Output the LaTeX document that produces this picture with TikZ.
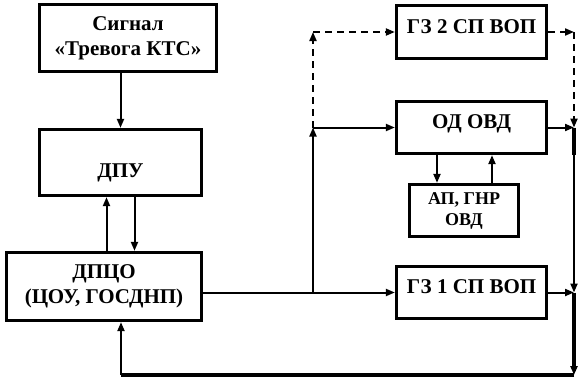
\documentclass[tikz,border=0pt]{standalone}
\usepackage{fontspec}
\setmainfont{Liberation Serif}
\usetikzlibrary{arrows.meta, calc}
\tikzset{
  block/.style={
    rectangle,
    draw,
    line width=3.3pt,
    align=center,
    inner sep=0pt,
    font=\bfseries\fontsize{21}{25}\selectfont
  },
  uptext/.style={text height=14pt, text depth=12pt},
  arrow/.style={-{Triangle[length=9pt,width=7pt]}, line width=2pt},
  dashedarrow/.style={arrow, dash pattern=on 7pt off 5pt},
  thickarrow/.style={arrow, line width=3.3pt}
}
\begin{document}
\begin{tikzpicture}[x=1pt, y=-1pt]
  \useasboundingbox (0,0) rectangle (584,383);

  % left column
  \node[block, minimum width=177pt, minimum height=67pt] (sig) at (128,38) {Сигнал\\«Тревога КТС»};
  \node[block, minimum width=162pt, minimum height=66pt, text height=34pt, text depth=4pt] (dpu) at (120.5,162.5) {ДПУ};
  \node[block, minimum width=195pt, minimum height=68pt] (dpco) at (104,286.5) {ДПЦО\\(ЦОУ, ГОСДНП)};

  % right column
  \node[block, uptext, minimum width=150pt, minimum height=53pt] (gz2) at (471.5,32) {ГЗ 2 СП ВОП};
  \node[block, uptext, minimum width=150pt, minimum height=52pt] (od) at (471.5,127.5) {ОД ОВД};
  \node[block, font=\bfseries\fontsize{18}{21}\selectfont, minimum width=109pt, minimum height=52pt] (ap) at (464,210.5) {АП, ГНР\\ОВД};
  \node[block, uptext, minimum width=150pt, minimum height=52pt] (gz1) at (471.5,292.5) {ГЗ 1 СП ВОП};

  \coordinate (br) at (313,292.5);
  \coordinate (rt) at (574,0);
  \coordinate (ret) at (121,375);
  \coordinate (up1) at ($(dpu.south)+(-14,0)$);
  \coordinate (dn1) at ($(dpu.south)+(14,0)$);
  \coordinate (dn2) at ($(ap.north)+(-27,0)$);
  \coordinate (up2) at ($(ap.north)+(28,0)$);

  \draw[arrow] (sig.south -| dpu.north) -- (dpu.north);
  \draw[arrow] (up1 |- dpco.north) -- (up1);
  \draw[arrow] (dn1) -- (dn1 |- dpco.north);
  \draw[arrow] (dn2 |- od.south) -- (dn2);
  \draw[arrow] (up2) -- (up2 |- od.south);

  \draw[arrow] (dpco.east |- gz1.west) -- (gz1.west);
  \draw[arrow] (br) -- (br |- od.west);
  \draw[arrow] (br |- od.west) -- (od.west);
  \draw[dashedarrow] (br |- od.west) -- (br |- gz2.west);
  \draw[dashedarrow] (br |- gz2.west) -- (gz2.west);

  \draw[dashedarrow] (gz2.east) -- (rt |- gz2.east);
  \draw[dashedarrow] (rt |- gz2.east) -- (rt |- od.east);
  \draw[arrow] (od.east) -- (rt |- od.east);
  \draw[line width=3.3pt] (rt |- od.east) -- (rt |- od.south);
  \draw[arrow] (rt |- od.east) -- (rt |- gz1.east);
  \draw[arrow] (gz1.east) -- (rt |- gz1.east);
  \draw[thickarrow] (rt |- gz1.east) -- (rt |- ret);
  \draw[line width=3.3pt] (rt |- ret) -- (ret);
  \draw[arrow] (ret) -- (ret |- dpco.south);
\end{tikzpicture}
\end{document}
